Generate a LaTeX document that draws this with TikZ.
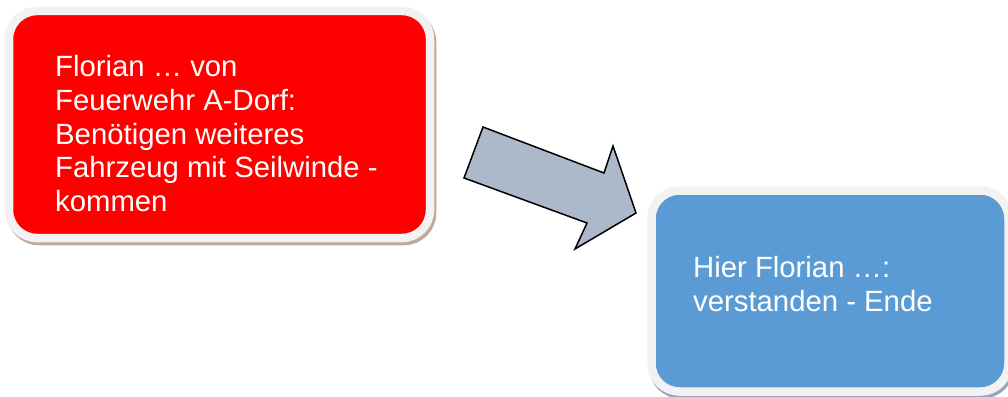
\documentclass[tikz,border=0pt]{standalone}
\usepackage{fontspec}
\setmainfont{Liberation Sans}
\usetikzlibrary{shadows}
\definecolor{boxred}{RGB}{255,0,0}
\definecolor{boxblue}{RGB}{91,155,213}
\definecolor{rim}{RGB}{242,242,242}
\definecolor{redshadow}{RGB}{196,168,148}
\definecolor{blueshadow}{RGB}{150,165,185}
\definecolor{arrowfill}{RGB}{171,185,202}
\tikzset{
  msgbox/.style={draw=rim, line width=8.5pt, rounded corners=28pt, inner sep=0pt},
  msgtext/.style={text=white, align=left, inner sep=0pt, font=\fontsize{29.3}{33.8}\selectfont},
  blockarrow/.style={draw=black, line width=1.5pt, fill=arrowfill, line join=miter}
}
\begin{document}
\begin{tikzpicture}[x=1pt,y=-1pt]
\useasboundingbox (0,0) rectangle (1008,396);
% red box
\node[msgbox, fill=boxred, minimum width=421pt, minimum height=227pt,
      drop shadow={shadow xshift=2pt, shadow yshift=-3pt, fill=redshadow, draw=redshadow, line width=8.5pt, opacity=1}]
      (redbox) at (219.5,124.5) {};
\node[msgtext, anchor=north west] (redtext) at (55,55)
  {Florian … von\\Feuerwehr A-Dorf:\\Benötigen weiteres\\Fahrzeug mit Seilwinde -\\kommen};
% blue box
\node[msgbox, fill=boxblue, minimum width=357pt, minimum height=201pt,
      drop shadow={shadow xshift=1.5pt, shadow yshift=-3pt, fill=blueshadow, draw=blueshadow, line width=8.5pt, opacity=1}]
      (bluebox) at (830,291) {};
\node[msgtext, anchor=north west] (bluetext) at (693,256)
  {Hier Florian …:\\verstanden - Ende};
% block arrow
\draw[blockarrow] (483,127) -- (464,178) -- (587,223) -- (575,249) -- (636,213)
  -- (613,146) -- (604,173) -- cycle;
\end{tikzpicture}
\end{document}
